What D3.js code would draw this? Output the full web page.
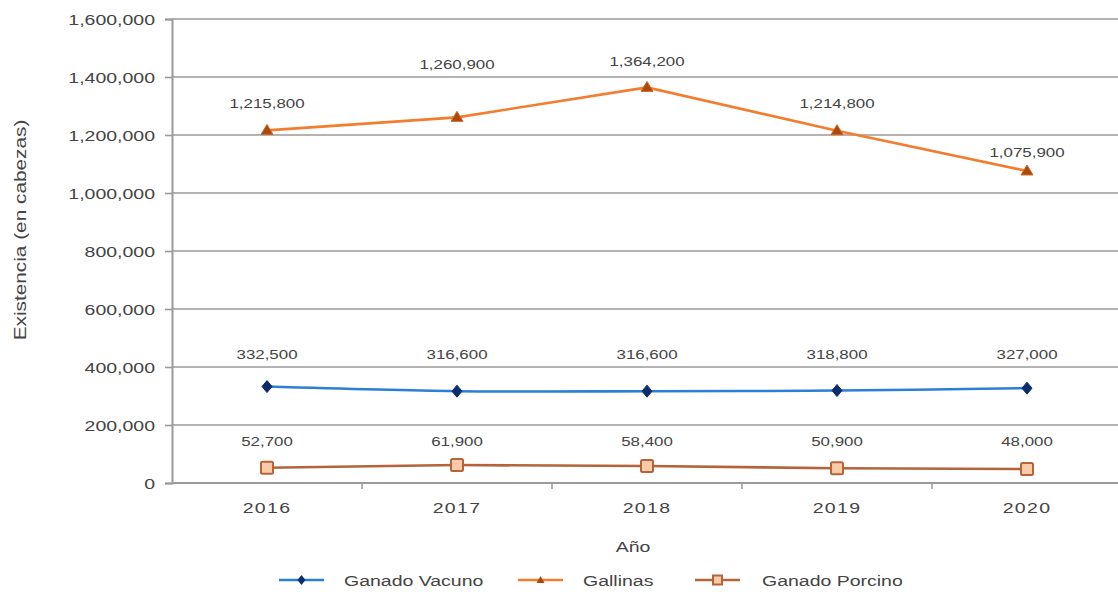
<!DOCTYPE html>
<html>
<head>
<meta charset="utf-8">
<script src="https://cdn.jsdelivr.net/npm/d3@7"></script>
<style>
  html, body { margin: 0; padding: 0; background: #fff; }
  svg { display: block; font-family: "Liberation Sans", Arial, sans-serif; }
</style>
</head>
<body>
<svg id="chart" width="1118" height="594"></svg>
<script>
// Livestock headcount by year
const years = ["2016", "2017", "2018", "2019", "2020"];
const vacuno = [332500, 316600, 316600, 318800, 327000];
const gallinas = [1215800, 1260900, 1364200, 1214800, 1075900];
const porcino = [52700, 61900, 58400, 50900, 48000];
const yTicks = [0, 200000, 400000, 600000, 800000, 1000000, 1200000, 1400000, 1600000];
const seriesNames = ["Ganado Vacuno", "Gallinas", "Ganado Porcino"];
// vertical lift of the value labels above the Gallinas points (px)
const gallinasLabelLift = [27, 53, 26, 27, 18];

const W = 1118, H = 594;
const svg = d3.select("#chart");
const STRETCH = 1.3;          // wide text rendering
const textCol = "#444";
const gridCol = "#9a9a9a";

const x = d3.scaleBand().domain(years).range([172, 1122]).paddingInner(0).paddingOuter(0);
const cx = d => x(d) + x.bandwidth() / 2;
const y = d3.scaleLinear().domain([0, 1600000]).range([483, 19]);
const fmt = d3.format(",");

function label(g, px, py, str, size, anchor, extra) {
  const t = g.append("text")
    .attr("transform", `translate(${px},${py}) ${extra || ""} scale(${STRETCH},1)`)
    .attr("text-anchor", anchor)
    .attr("font-size", size)
    .attr("fill", textCol)
    .text(str);
  return t;
}

// gridlines
const grid = svg.append("g");
grid.selectAll("line").data(yTicks).join("line")
  .attr("x1", 172).attr("x2", W)
  .attr("y1", d => y(d)).attr("y2", d => y(d))
  .attr("stroke", gridCol).attr("stroke-width", 1.6);

// y axis
const yAxis = d3.axisLeft(y).tickValues(yTicks).tickSize(7).tickFormat("");
const yg = svg.append("g").attr("transform", "translate(172,0)").call(yAxis);
yg.select(".domain").attr("stroke", gridCol).attr("stroke-width", 2);
yg.selectAll(".tick line").attr("stroke", gridCol).attr("stroke-width", 1.6);
const ylab = svg.append("g");
yTicks.forEach(v => label(ylab, 155, y(v) + 5.5, fmt(v), 15, "end"));

// x axis (ticks at category boundaries)
const bounds = years.slice(1).map(d => x(d));
const xg = svg.append("g");
xg.append("line").attr("x1", 172).attr("x2", W).attr("y1", y(0)).attr("y2", y(0))
  .attr("stroke", gridCol).attr("stroke-width", 2);
xg.selectAll("line.tk").data(bounds).join("line").attr("class", "tk")
  .attr("x1", d => d).attr("x2", d => d).attr("y1", y(0)).attr("y2", y(0) + 6)
  .attr("stroke", gridCol).attr("stroke-width", 1.5);
years.forEach(yr => label(xg, cx(yr), 513, yr, 15, "middle").attr("letter-spacing", 1));

// axis titles
label(svg, 633, 552, "Año", 15, "middle");
label(svg, 26, 230, "Existencia (en cabezas)", 16, "middle", "rotate(-90)");

// series
const series = [
  { name: seriesNames[0], values: vacuno, line: "#2b7fd4", curve: d3.curveCatmullRom.alpha(0.5), marker: "diamond" },
  { name: seriesNames[1], values: gallinas, line: "#f27d2e", curve: d3.curveLinear, marker: "triangle" },
  { name: seriesNames[2], values: porcino, line: "#b5643a", curve: d3.curveLinear, marker: "square" }
];

function drawMarker(g, type, px, py) {
  if (type === "diamond") {
    g.append("path").attr("d", `M${px},${py - 6}L${px + 5},${py}L${px},${py + 6}L${px - 5},${py}Z`)
      .attr("fill", "#0b2c6e").attr("stroke", "#0b2c6e").attr("stroke-width", 1);
  } else if (type === "triangle") {
    g.append("path").attr("d", `M${px},${py - 6}L${px + 6},${py + 4}L${px - 6},${py + 4}Z`)
      .attr("fill", "#a94a0c").attr("stroke", "#d8661c").attr("stroke-width", 1);
  } else {
    g.append("rect").attr("x", px - 6).attr("y", py - 6).attr("width", 12).attr("height", 12)
      .attr("rx", 1.5).attr("fill", "#fbcaa6").attr("stroke", "#b5643a").attr("stroke-width", 2);
  }
}

series.forEach(s => {
  const g = svg.append("g");
  const line = d3.line().x((d, i) => cx(years[i])).y(d => y(d)).curve(s.curve);
  g.append("path").attr("d", line(s.values)).attr("fill", "none")
    .attr("stroke", s.line).attr("stroke-width", 2.6);
  s.values.forEach((v, i) => drawMarker(g, s.marker, cx(years[i]), y(v)));
});

// value labels
const lg = svg.append("g");
vacuno.forEach((v, i) => label(lg, cx(years[i]), 359, fmt(v), 13, "middle"));
gallinas.forEach((v, i) => label(lg, cx(years[i]), y(v) - gallinasLabelLift[i] + 4.5, fmt(v), 13, "middle"));
porcino.forEach((v, i) => label(lg, cx(years[i]), 446, fmt(v), 13, "middle"));

// legend
const legY = 580;
const legItems = [
  { s: series[0], x0: 279, tx: 344 },
  { s: series[1], x0: 518, tx: 583 },
  { s: series[2], x0: 695, tx: 762 }
];
const leg = svg.append("g");
legItems.forEach(it => {
  leg.append("line").attr("x1", it.x0).attr("x2", it.x0 + 45).attr("y1", legY).attr("y2", legY)
    .attr("stroke", it.s.line).attr("stroke-width", 2.6);
  const mg = leg.append("g");
  if (it.s.marker === "square") {
    mg.append("rect").attr("x", it.x0 + 22.5 - 4.5).attr("y", legY - 4.5).attr("width", 9).attr("height", 9)
      .attr("fill", "#fbcaa6").attr("stroke", "#b5643a").attr("stroke-width", 2);
  } else if (it.s.marker === "triangle") {
    const px = it.x0 + 22.5;
    mg.append("path").attr("d", `M${px},${legY - 4}L${px + 4},${legY + 3}L${px - 4},${legY + 3}Z`).attr("fill", "#a94a0c");
  } else {
    const px = it.x0 + 22.5;
    mg.append("path").attr("d", `M${px},${legY - 5}L${px + 4},${legY}L${px},${legY + 5}L${px - 4},${legY}Z`).attr("fill", "#0b2c6e");
  }
  label(leg, it.tx, legY + 5.5, it.s.name, 15, "start");
});
</script>
</body>
</html>
